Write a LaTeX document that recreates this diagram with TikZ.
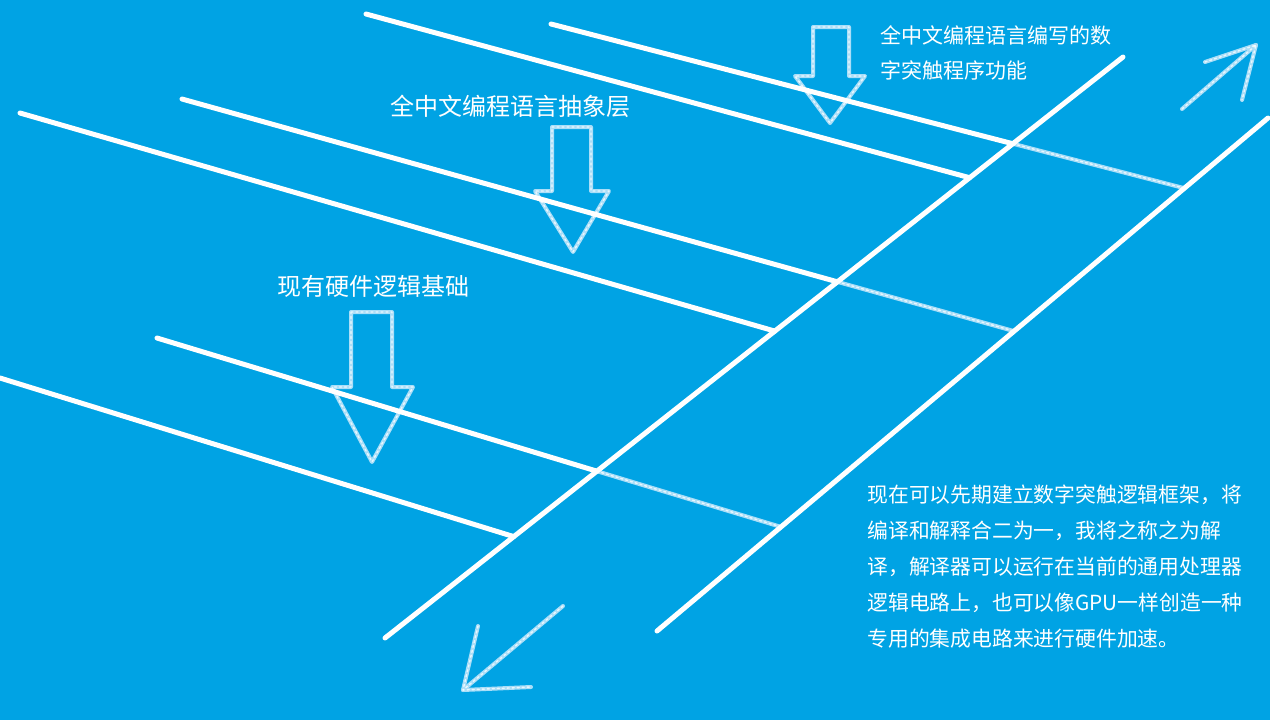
\documentclass[tikz,border=0pt]{standalone}
\usepackage{fontspec}
\setmainfont{Noto Sans CJK SC}
\definecolor{bg}{RGB}{0,163,228}
\definecolor{chalk}{RGB}{170,222,248}
\tikzset{
  wline/.style={draw=white, line width=2.5pt, line cap=round},
  chalkline/.style={draw=chalk, line width=2pt, line cap=round, line join=round},
  chalkdust/.style={draw=white, line width=0.7pt, dash pattern=on 1pt off 1.5pt, opacity=0.75, line cap=round, line join=round},
  lbl/.style={text=white, font=\fontsize{12pt}{14pt}\selectfont, inner sep=0pt},
  para/.style={text=white, align=left, inner sep=0pt, anchor=north west},
}
\begin{document}
\begin{tikzpicture}[x=0.5pt,y=-0.5pt]
\useasboundingbox (0,0) rectangle (1270,720);
\fill[bg] (0,0) rectangle (1270,720);

% block arrows (chalk outlines)
\foreach \sl/\sr/\top/\hy/\hl/\hr/\tx/\ty in {813/849/27/76/795/865/830/123, 552/591/127/191/535/609/573/252, 351/392/312/387/332/413/372/462}{
  \draw[chalkline] (\sl,\top) -- (\sr,\top) -- (\sr,\hy) -- (\hr,\hy) -- (\tx,\ty) -- (\hl,\hy) -- (\sl,\hy) -- cycle;
  \draw[chalkdust] (\sl,\top) -- (\sr,\top) -- (\sr,\hy) -- (\hr,\hy) -- (\tx,\ty) -- (\hl,\hy) -- (\sl,\hy) -- cycle;
}

% main diagonal rails
\coordinate (A1) at (385,638);
\coordinate (A2) at (1123,57);
\coordinate (B1) at (657,631);
\coordinate (B2) at (1268,118);

% cross lines: left end and a point on the line
\coordinate (L1a) at (366,14);  \coordinate (L1b) at (967,177);
\coordinate (L2a) at (551,24);  \coordinate (L2b) at (1010,143);
\coordinate (L3a) at (182,99);  \coordinate (L3b) at (838,282);
\coordinate (L4a) at (20,113);  \coordinate (L4b) at (771,330);
\coordinate (L5a) at (157,338); \coordinate (L5b) at (593,470);
\coordinate (L6a) at (0,378);   \coordinate (L6b) at (515,537);

\foreach \i in {1,...,6}{
  \coordinate (L\i A) at (intersection of L\i a--L\i b and A1--A2);
  \coordinate (L\i B) at (intersection of L\i a--L\i b and B1--B2);
}

% faint continuations between the rails
\foreach \i in {2,3,5}{
  \draw[chalkline] (L\i A) -- (L\i B);
  \draw[chalkdust] (L\i A) -- (L\i B);
}

% white cross lines up to rail A
\foreach \i in {1,...,6}{
  \draw[wline] (L\i a) -- (L\i A);
}

\draw[wline] (A1) -- (A2);
\draw[wline] (B1) -- (B2);

% chalk line arrows
\coordinate (ur0) at (1182,109); \coordinate (ur1) at (1256,45);
\coordinate (ur2) at (1205,62);  \coordinate (ur3) at (1242,100);
\draw[chalkline] (ur0) -- (ur1); \draw[chalkline] (ur2) -- (ur1) -- (ur3);
\draw[chalkdust] (ur0) -- (ur1); \draw[chalkdust] (ur2) -- (ur1) -- (ur3);

\coordinate (dl0) at (563,606); \coordinate (dl1) at (463,690);
\coordinate (dl2) at (478,626); \coordinate (dl3) at (531,687);
\draw[chalkline] (dl0) -- (dl1); \draw[chalkline] (dl2) -- (dl1) -- (dl3);
\draw[chalkdust] (dl0) -- (dl1); \draw[chalkdust] (dl2) -- (dl1) -- (dl3);

% labels
\node[lbl] (abs) at (510,106) {全中文编程语言抽象层};
\node[lbl] (hw) at (373,286) {现有硬件逻辑基础};

\node[para, font=\fontsize{10.5pt}{17.5pt}\selectfont] (top) at (880,25)
  {全中文编程语言编写的数\\字突触程序功能};

\node[para, font=\fontsize{10.4pt}{18pt}\selectfont] (desc) at (867,484)
  {现在可以先期建立数字突触逻辑框架，将\\
   编译和解释合二为一，我将之称之为解\\
   译，解译器可以运行在当前的通用处理器\\
   逻辑电路上，也可以像GPU一样创造一种\\
   专用的集成电路来进行硬件加速。};
\end{tikzpicture}
\end{document}
